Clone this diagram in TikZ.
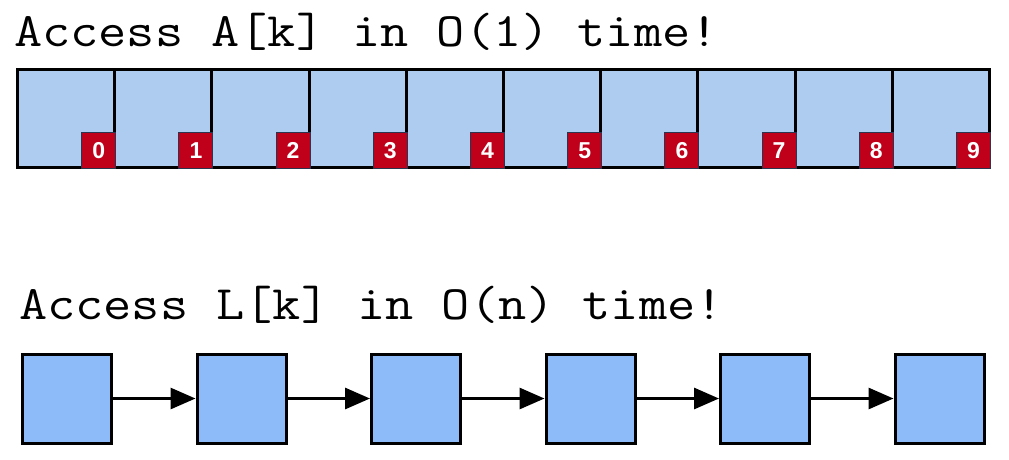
\documentclass[tikz,border=0pt]{standalone}
\usepackage{fontspec}
\newfontfamily\courierlike[FakeStretch=1.14]{Latin Modern Mono}
\newfontfamily\idxfont{Liberation Sans}
\usetikzlibrary{arrows.meta}
\definecolor{cellblue}{HTML}{AECBF0}
\definecolor{listblue}{HTML}{8DBAF8}
\definecolor{idxred}{HTML}{C0001B}
\definecolor{idxedge}{HTML}{2B3550}
\tikzset{
  title/.style={anchor=base west, inner sep=0pt, font=\courierlike\fontsize{48}{48}\selectfont},
  cell/.style={draw=black, line width=3pt, fill=cellblue, minimum width=97.2pt, minimum height=98pt, inner sep=0pt, anchor=north west},
  idx/.style={draw=idxedge, line width=1pt, fill=idxred, text=white, minimum width=34pt, minimum height=36pt, inner sep=0pt, anchor=south east, font=\idxfont\bfseries\fontsize{23}{23}\selectfont},
  lnode/.style={draw=black, line width=3pt, fill=listblue, minimum width=89pt, minimum height=89pt, inner sep=0pt, anchor=north west},
  link/.style={line width=3pt, -{Triangle[length=25pt, width=21pt]}}
}
\begin{document}
\begin{tikzpicture}[x=1pt, y=-1pt]
\useasboundingbox (0,0) rectangle (1009,459);
\node[title] (t1) at (14,46) {Access A[k] in O(1) time!};
\foreach \i in {0,...,9}{
  \node[cell] (cell\i) at ({16+97.2*\i},68) {};
}
\foreach \i in {0,...,9}{
  \node[idx] (idx\i) at (cell\i.south east) {\i};
}
\node[title] (t2) at (19,319) {Access L[k] in O(n) time!};
\foreach \i in {1,...,6}{
  \node[lnode] (n\i) at ({21+174.5*(\i-1)},352.5) {};
}
\foreach \i/\j in {1/2,2/3,3/4,4/5,5/6}{
  \draw[link] (n\i.east) -- (n\j.west);
}
\end{tikzpicture}
\end{document}
